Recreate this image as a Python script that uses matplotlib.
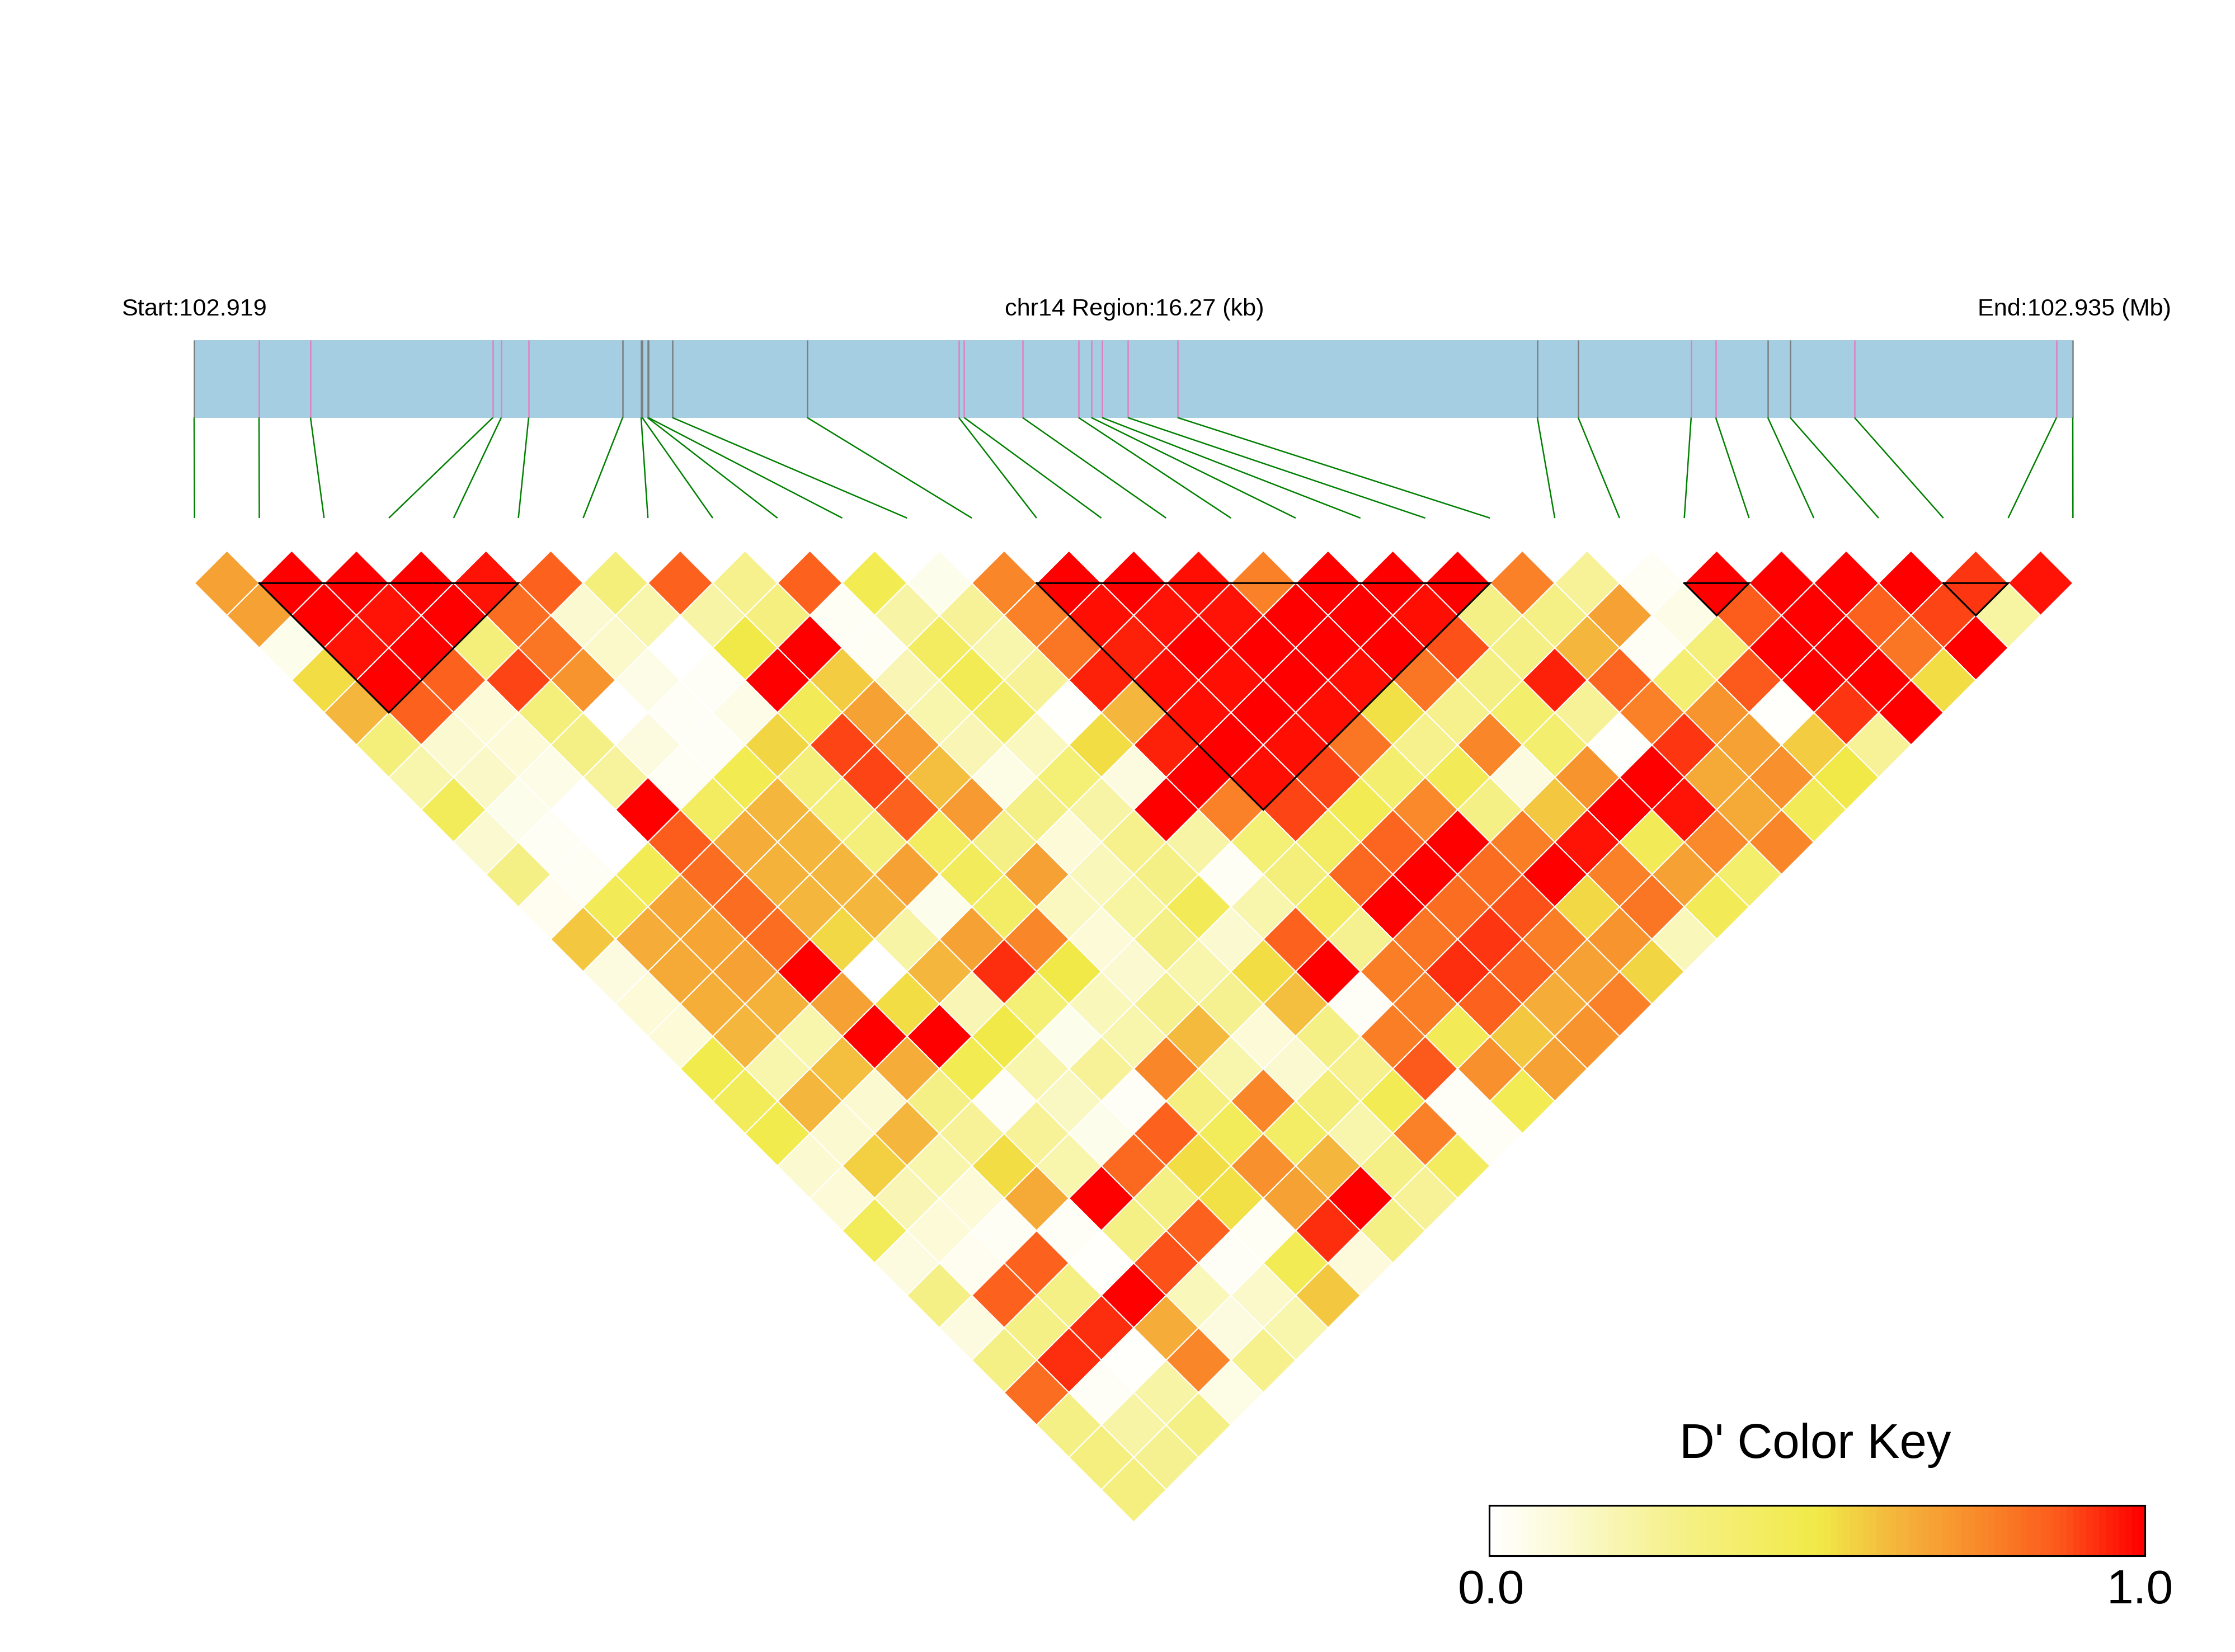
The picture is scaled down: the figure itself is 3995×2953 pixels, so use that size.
# LD heatmap of chr14 region with gene track and D' color key

import numpy as np
import matplotlib
matplotlib.use("Agg")
import matplotlib.pyplot as plt
from matplotlib.collections import PolyCollection
from matplotlib.colors import LinearSegmentedColormap

plt.rcParams['font.family'] = ['Liberation Sans', 'DejaVu Sans']

REGION_KB = 16.27

# SNP positions, kb from region start
snp_kb = [0.0, 0.562, 1.008, 2.587, 2.660, 2.897, 3.711, 3.871, 3.881, 3.927,
          3.934, 4.143, 5.310, 6.623, 6.669, 7.175, 7.660, 7.771, 7.863, 8.086,
          8.518, 11.633, 11.987, 12.965, 13.178, 13.629, 13.823, 14.380, 16.129, 16.27]
# 1 = pink tick, 0 = grey tick
snp_flag = [0, 1, 1, 1, 1, 1, 0, 0, 0, 0,
            0, 0, 0, 1, 1, 1, 1, 1, 1, 1,
            1, 0, 0, 1, 1, 0, 0, 1, 1, 0]

# D' by distance between SNPs, first list = neighbouring SNPs
d_01 = [.68, 1, 1, 1, .97, .85, .33, .85, .28, .85, .47, .05, .76, 1, 1, .98, .77, 1, 1, 1, .77, .25, .03, 1, 1, 1, 1, .92, .97]
d_02 = [.68, 1, .97, 1, .82, .12, .2, .22, .32, .03, .22, .25, .77, .98, .97, .97, 1, 1, .98, .3, .3, .68, .06, .86, 1, .85, .9, .23]
d_03 = [.05, .97, 1, .33, .8, .13, 0, .5, 1, .03, .42, .2, .8, .95, 1, 1, 1, 1, .88, .3, .62, .03, .33, 1, 1, .8, 1]
d_04 = [.53, 1, .85, .9, .72, .06, .02, 1, .57, .18, .46, .25, .95, .98, .98, 1, .98, .8, .3, .95, .84, .36, .87, 1, 1, .53]
d_05 = [.62, .85, .1, .33, 0, .02, .06, .45, .68, .2, .4, .01, .62, .98, 1, .98, .52, .28, .38, .25, .77, .72, .01, .92, 1]
d_06 = [.33, .12, .1, .3, .08, .02, .55, .9, .7, .18, .16, .53, .95, 1, .98, .8, .28, .76, .37, .01, .92, .68, .57, .25]
d_07 = [.2, .14, .06, .24, .03, .47, .33, .9, .6, .07, .35, .08, 1, .98, .9, .37, .45, .08, .72, 1, .66, .73, .5]
d_08 = [.44, .05, 0, 1, .42, .62, .33, .85, .7, .3, .22, 1, .77, .9, .46, .75, .3, .58, 1, .97, .66, .45]
d_09 = [.12, .03, 0, .86, .65, .62, .33, .42, .3, .1, .28, .22, .35, .4, .84, 1, .78, .97, .45, .75, .76]
d_10 = [.3, .03, .46, .82, .63, .62, .68, .43, .68, .17, .3, .03, .33, .83, 1, .82, 1, .77, .68, .38]
d_11 = [.04, .45, .67, .82, .62, .62, .05, .4, .16, .23, .45, .2, .42, 1, .82, .88, .54, .8, .45]
d_12 = [.58, .65, .67, .82, .54, .22, .68, .76, .1, .3, .12, .85, .27, .8, .92, .78, .72, .17]
d_13 = [.08, .66, .68, 1, 0, .62, .93, .5, .12, .2, .53, 1, .78, .93, .85, .68, .55]
d_14 = [.1, .64, .63, .68, .53, .18, .35, .17, .27, .27, .6, .02, .78, .85, .65, .77]
d_15 = [.1, .62, .2, 1, 1, .5, .05, .2, .61, .1, .3, .78, .45, .58, .72]
d_16 = [.48, .2, .6, .65, .47, .2, .25, .76, .2, .12, .28, .87, .73, .68]
d_17 = [.44, .62, .12, .3, .02, .15, .02, .32, .76, .33, .46, .02, .46]
d_18 = [.48, .12, .62, .25, .25, .05, .85, .44, .4, .2, .77, .02]
d_19 = [.12, .56, .2, .53, .2, .83, .53, .73, .62, .3, .42]
d_20 = [.1, .18, .1, .66, 1, .3, .52, .68, 1, .25]
d_21 = [.44, .1, .03, .02, .3, .85, .03, .93, .3]
d_22 = [.08, .04, .85, .01, .88, .02, .46, .09]
d_23 = [.3, .85, .3, 1, .17, .13, .58]
d_24 = [.08, .3, .93, .65, .08, .2]
d_25 = [.3, .93, .01, .76, .28]
d_26 = [.82, .02, .22, .07]
d_27 = [.3, .22, .3]
d_28 = [.32, .27]
d_29 = [.32]
ld_rows = [d_01, d_02, d_03, d_04, d_05, d_06, d_07, d_08, d_09, d_10,
           d_11, d_12, d_13, d_14, d_15, d_16, d_17, d_18, d_19, d_20,
           d_21, d_22, d_23, d_24, d_25, d_26, d_27, d_28, d_29]

# haplotype blocks as first and last SNP index
blocks = [(1, 5), (13, 20), (23, 24), (27, 28)]

start_label = "Start:102.919"
mid_label = "chr14 Region:16.27 (kb)"
end_label = "End:102.935 (Mb)"
key_title = "D' Color Key"
key_ticks = ["0.0", "1.0"]

ld_cmap = LinearSegmentedColormap.from_list("ld", [
    (0.0, "#FFFFFF"), (0.3, "#F5F084"), (0.5, "#F1EA48"), (0.62, "#F4B63C"),
    (0.75, "#F98A2A"), (0.87, "#FC5A1C"), (1.0, "#FF0000"),
])

fig = plt.figure(figsize=(3995 / 300, 2953 / 300), dpi=300)
ax = fig.add_axes([0, 0, 1, 1])

# heatmap, everything below is in reference pixels
x0, step = 347.7, 115.78
half = step / 2
row_h = 57.88
top = 1042.3

polys, vals = [], []
for d, row in enumerate(ld_rows):
    for k, val in enumerate(row):
        cx = x0 + half + half * d + step * k
        cy = top + row_h * d
        polys.append([(cx - half, cy), (cx, cy - row_h), (cx + half, cy), (cx, cy + row_h)])
        vals.append(val)
cells = PolyCollection(polys, array=np.array(vals), cmap=ld_cmap, edgecolors='white', linewidths=0.5)
cells.set_clim(0, 1)
ax.add_collection(cells)

for a, b in blocks:
    xa, xb = x0 + step * a, x0 + step * b
    tri_x = [xa, xb, (xa + xb) / 2, xa]
    tri_y = [top, top, top + row_h * (b - a), top]
    ax.plot(tri_x, tri_y, color='black', lw=0.75, solid_joinstyle='miter', zorder=3)

# gene track
bar_l, bar_r = 347.0, 3705.0
bar_t, bar_b = 608.0, 746.5
link_b = 926.0
ax.fill([bar_l, bar_r, bar_r, bar_l], [bar_t, bar_t, bar_b, bar_b], color='#A6CEE3', lw=0)
for i, (kb, flag) in enumerate(zip(snp_kb, snp_flag)):
    sx = bar_l + (bar_r - bar_l) * kb / REGION_KB
    ax.plot([sx, sx], [bar_t, bar_b], color='#E27FBE' if flag else '#7A7F80', lw=0.6, solid_capstyle='butt')
    ax.plot([sx, x0 + step * i], [bar_b, link_b], color='#008000', lw=0.6, solid_capstyle='butt')

ax.text(217, 553, start_label, fontsize=10.4, ha='left', va='center')
ax.text(2028, 553, mid_label, fontsize=10.4, ha='center', va='center')
ax.text(3881, 553, end_label, fontsize=10.4, ha='right', va='center')

# color key
key_l, key_r = 2662.0, 3834.5
key_t, key_b = 2691.0, 2781.0
key_edges = np.linspace(key_l, key_r, 101)
key_vals = (np.arange(100) / 99.0).reshape(1, -1)
ax.pcolormesh(key_edges, [key_t, key_b], key_vals, cmap=ld_cmap, vmin=0, vmax=1, antialiased=False)
ax.plot([key_l, key_r, key_r, key_l, key_l], [key_t, key_t, key_b, key_b, key_t], color='black', lw=0.75, solid_joinstyle='miter')
ax.text((key_l + key_r) / 2 - 4, 2606, key_title, fontsize=20.9, ha='center', va='baseline')
ax.text(key_l + 3, 2866, key_ticks[0], fontsize=20.6, ha='center', va='baseline')
ax.text(key_r - 9, 2866, key_ticks[1], fontsize=20.6, ha='center', va='baseline')

ax.set_xlim(0, 3995)
ax.set_ylim(2953, 0)
ax.axis('off')

fig.savefig("out.png", dpi=300, facecolor='white')
